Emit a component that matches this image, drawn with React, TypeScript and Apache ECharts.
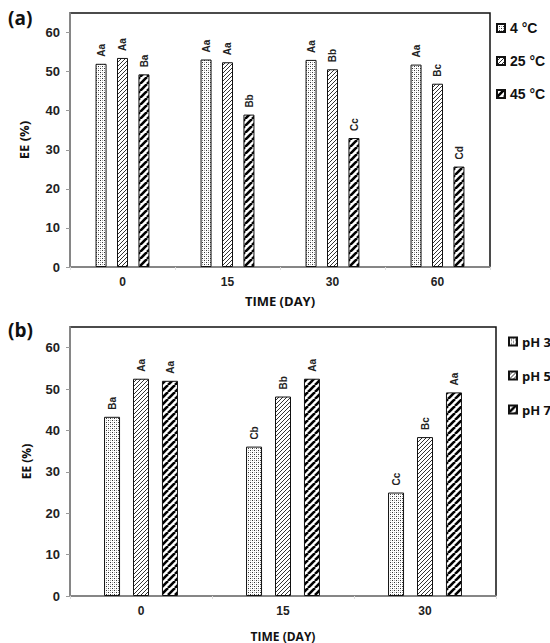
import React, { useEffect, useRef } from "react";
import * as echarts from "echarts";

// ---- data ----
const daysA = ["0", "15", "30", "60"];
const temp4 = [52.0, 53.1, 53.0, 51.8];
const temp25 = [53.5, 52.4, 50.6, 46.9];
const temp45 = [49.3, 39.0, 33.0, 25.7];
const temp4Letters = ["Aa", "Aa", "Aa", "Aa"];
const temp25Letters = ["Aa", "Aa", "Bb", "Bc"];
const temp45Letters = ["Ba", "Bb", "Cc", "Cd"];

const daysB = ["0", "15", "30"];
const ph3 = [43.3, 36.1, 25.0];
const ph5 = [52.5, 48.2, 38.4];
const ph7 = [52.0, 52.5, 49.2];
const ph3Letters = ["Ba", "Cb", "Cc"];
const ph5Letters = ["Aa", "Bb", "Bc"];
const ph7Letters = ["Aa", "Aa", "Aa"];

const yTicks = [0, 10, 20, 30, 40, 50, 60];

function makePattern(kind: string): string {
  const c = document.createElement("canvas");
  const ctx = c.getContext("2d")!;
  if (kind === "dots") {
    c.width = 4;
    c.height = 4;
    ctx.fillStyle = "#ffffff";
    ctx.fillRect(0, 0, 4, 4);
    ctx.fillStyle = "#333";
    [[0, 0], [2, 2]].forEach(([x, y]) => ctx.fillRect(x, y, 1, 1));
    ctx.fillStyle = "#aaa";
    [[2, 0], [0, 2]].forEach(([x, y]) => ctx.fillRect(x, y, 1, 1));
  } else if (kind === "fine") {
    c.width = 4;
    c.height = 4;
    ctx.fillStyle = "#ffffff";
    ctx.fillRect(0, 0, 4, 4);
    ctx.fillStyle = "#333";
    [[0, 3], [1, 2], [2, 1], [3, 0]].forEach(([x, y]) => ctx.fillRect(x, y, 1, 1));
  } else {
    c.width = 7;
    c.height = 7;
    ctx.fillStyle = "#ffffff";
    ctx.fillRect(0, 0, 7, 7);
    ctx.strokeStyle = "#000";
    ctx.lineWidth = 2.6;
    for (const k of [-7, 0, 7]) {
      ctx.beginPath();
      ctx.moveTo(k, 7);
      ctx.lineTo(k + 7, 0);
      ctx.stroke();
    }
  }
  return c.toDataURL();
}

export default function App() {
  const ref = useRef<HTMLDivElement>(null);
  useEffect(() => {
    if (!ref.current) return;
    const chart = echarts.init(ref.current, null, { renderer: "svg" });
    const pDots = { image: makePattern("dots"), repeat: "repeat" };
    const pFine = { image: makePattern("fine"), repeat: "repeat" };
    const pThick = { image: makePattern("thick"), repeat: "repeat" };

    const tickFont = "Arial";
    const titleFont = "Open Sans";

    const yAxisCommon = (idx: number, nameGap: number, nameSize: number) => ({
      gridIndex: idx,
      type: "value",
      min: 0,
      max: 65,
      interval: 10,
      name: "EE (%)",
      nameLocation: "middle",
      nameGap,
      nameTextStyle: { fontFamily: titleFont, fontWeight: "bold", fontSize: nameSize, color: "#111" },
      axisLine: { show: true, lineStyle: { color: "#9a9a9a", width: 1.5 } },
      axisTick: { show: true, length: 4, lineStyle: { color: "#9a9a9a" } },
      splitLine: { show: false },
      axisLabel: {
        showMaxLabel: false,
        margin: 10,
        fontFamily: tickFont,
        fontWeight: "bold",
        fontSize: 13,
        color: "#222",
        formatter: (v: number) => (yTicks.indexOf(v) >= 0 ? String(v) : ""),
      },
    });

    const xAxisCommon = (idx: number, data: string[], nameGap: number, nameSize: number) => ({
      gridIndex: idx,
      type: "category",
      data,
      name: "TIME (DAY)",
      nameLocation: "middle",
      nameGap,
      nameTextStyle: { fontFamily: titleFont, fontWeight: "bold", fontSize: nameSize, color: "#111" },
      axisLine: { show: true, lineStyle: { color: "#9a9a9a", width: 1.5 } },
      axisTick: { show: true, length: 3, lineStyle: { color: "#dddddd" } },
      axisLabel: {
        margin: 9,
        fontFamily: tickFont,
        fontWeight: "bold",
        fontSize: 12,
        color: "#222",
      },
    });

    const bar = (name: string, data: number[], color: any, idx: number, width: number, gap: string) => ({
      name,
      type: "bar",
      xAxisIndex: idx,
      yAxisIndex: idx,
      data,
      barWidth: width,
      barGap: gap,
      itemStyle: { color, borderColor: "#111", borderWidth: 1 },
    });

    // rotated significance letters above each bar, placed through the axes' scales
    const letterSeries = (data: number[], letters: string[], idx: number, offset: number, distance: number) => ({
      type: "custom",
      xAxisIndex: idx,
      yAxisIndex: idx,
      z: 10,
      data: data.map((v, i) => [i, v]),
      renderItem: (params: any, api: any) => {
        const pt = api.coord([api.value(0), api.value(1)]);
        return {
          type: "group",
          x: pt[0] + offset,
          y: pt[1] - distance,
          rotation: Math.PI / 2,
          children: [
            {
              type: "text",
              style: {
                text: letters[params.dataIndex],
                align: "left",
                verticalAlign: "middle",
                font: "bold 10px Arial",
                fill: "#222",
              },
            },
          ],
        };
      },
    });

    const legendText = (font: string, size: number) => ({
      fontFamily: font,
      fontWeight: "bold",
      fontSize: size,
      color: "#111",
    });

    chart.setOption({
      animation: false,
      grid: [
        { left: 70, top: 13, width: 420, height: 254, show: true, borderColor: "#111", borderWidth: 1.5 },
        { left: 70, top: 327, width: 426, height: 269, show: true, borderColor: "#111", borderWidth: 1.5 },
      ],
      xAxis: [xAxisCommon(0, daysA, 27, 13), xAxisCommon(1, daysB, 34, 12)],
      yAxis: [yAxisCommon(0, 40, 13), yAxisCommon(1, 38, 12)],
      legend: [
        {
          data: ["4 °C", "25 °C", "45 °C"],
          orient: "vertical",
          left: 491,
          top: 16,
          itemWidth: 8,
          itemHeight: 8,
          itemGap: 19,
          icon: "rect",
          textStyle: legendText(tickFont, 14),
        },
        {
          data: ["pH 3", "pH 5", "pH 7"],
          orient: "vertical",
          left: 503,
          top: 330,
          itemWidth: 8,
          itemHeight: 8,
          itemGap: 21,
          icon: "rect",
          textStyle: legendText(titleFont, 13),
        },
      ],
      graphic: [
        { type: "text", left: 8, top: 8, style: { text: "(a)", font: "bold 19px Open Sans", fill: "#111" } },
        { type: "text", left: 8, top: 320, style: { text: "(b)", font: "bold 19px Open Sans", fill: "#111" } },
      ],
      series: [
        bar("4 °C", temp4, pDots, 0, 11, "95%"),
        bar("25 °C", temp25, pFine, 0, 11, "95%"),
        bar("45 °C", temp45, pThick, 0, 11, "95%"),
        bar("pH 3", ph3, pDots, 1, 16, "81%"),
        bar("pH 5", ph5, pFine, 1, 16, "81%"),
        bar("pH 7", ph7, pThick, 1, 16, "81%"),
        letterSeries(temp4, temp4Letters, 0, -21.5, 7),
        letterSeries(temp25, temp25Letters, 0, 0, 7),
        letterSeries(temp45, temp45Letters, 0, 21.5, 7),
        letterSeries(ph3, ph3Letters, 1, -29, 7),
        letterSeries(ph5, ph5Letters, 1, 0, 7),
        letterSeries(ph7, ph7Letters, 1, 29, 7),
      ],
    });
    return () => chart.dispose();
  }, []);
  return (
    <div
      ref={ref}
      style={{ position: "fixed", left: 0, top: 0, width: 550, height: 643, background: "#fff" }}
    />
  );
}
